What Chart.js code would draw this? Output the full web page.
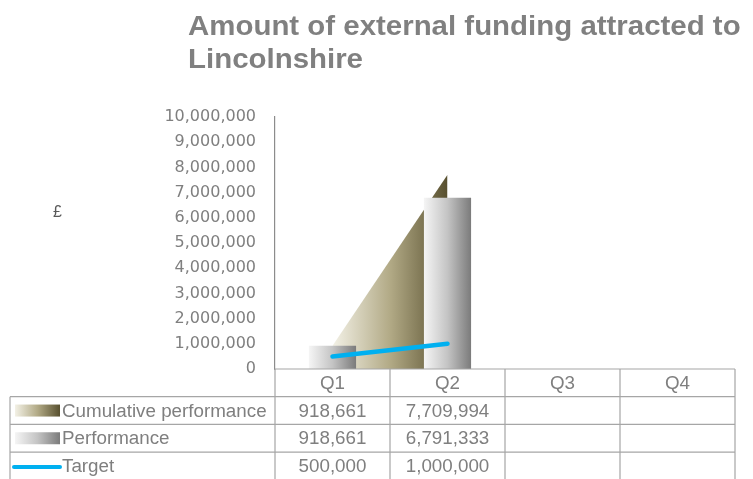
<!DOCTYPE html>
<html lang="en">
<head>
  <meta charset="UTF-8">
  <title>Amount of external funding attracted to Lincolnshire</title>
  <script src="https://cdn.jsdelivr.net/npm/chart.js"></script>
  <style>
    body {
      margin: 0;
      padding: 0;
      background: #ffffff;
      font-family: "Liberation Sans", Arial, sans-serif;
    }
    .wrap {
      position: relative;
      width: 753px;
      height: 479px;
      overflow: hidden;
    }
    .title {
      position: absolute;
      left: 188px;
      top: 10px;
      font-size: 27px;
      line-height: 33px;
      font-weight: bold;
      color: #808080;
      white-space: nowrap;
      transform: scaleX(1.09);
      transform-origin: left top;
    }
    .unit {
      position: absolute;
      left: 53px;
      top: 203px;
      font-size: 16px;
      color: #595959;
    }
    canvas {
      position: absolute;
      left: 0;
      top: 0;
    }
  </style>
</head>
<body>
  <div class="wrap">
    <canvas id="fundingChart" width="753" height="479"></canvas>
    <div class="title">Amount of external funding attracted to<br>Lincolnshire</div>
    <div class="unit">£</div>
  </div>
  <script>
    // Chart data (quarters, £)
    const quarters = ['Q1', 'Q2', 'Q3', 'Q4'];
    const cumulativePerformance = [918661, 7709994, null, null];
    const performance = [918661, 6791333, null, null];
    const target = [500000, 1000000, null, null];
    const seriesNames = ['Cumulative performance', 'Performance', 'Target'];

    const BAR_PCT = 0.41;
    const TABLE_LEFT = 10;
    const ROW_H = 27.7;
    const LINE_COLOR = '#a6a6a6';
    const TEXT_COLOR = '#7f7f7f';

    function fmt(v) {
      return v === null ? '' : v.toLocaleString('en-GB');
    }

    function cumulativeGradient(c, x0, x1) {
      const g = c.createLinearGradient(x0, 0, x1, 0);
      g.addColorStop(0, '#f3f1e6');
      g.addColorStop(0.5, '#b2aa86');
      g.addColorStop(1, '#58502f');
      return g;
    }

    function performanceGradient(c, x0, x1) {
      const g = c.createLinearGradient(x0, 0, x1, 0);
      g.addColorStop(0, '#f5f5f5');
      g.addColorStop(0.5, '#c4c4c4');
      g.addColorStop(1, '#7b7b7b');
      return g;
    }

    /**
     * Data table under the plot, Excel style
     */
    const dataTablePlugin = {
      id: 'dataTable',
      afterDraw(chart) {
        const c = chart.ctx;
        const xs = chart.scales.x;
        const area = chart.chartArea;
        const colW = (xs.right - xs.left) / quarters.length;
        const top = area.bottom;
        const rows = [cumulativePerformance, performance, target];

        c.save();
        c.strokeStyle = LINE_COLOR;
        c.lineWidth = 1.2;

        // header row borders
        c.beginPath();
        c.moveTo(xs.left, top);
        c.lineTo(xs.right, top);
        for (let i = 0; i <= quarters.length; i++) {
          const x = xs.left + i * colW;
          c.moveTo(x, top);
          c.lineTo(x, top + ROW_H * 4 + 5);
        }
        // data rows
        for (let r = 1; r <= 3; r++) {
          const y = top + r * ROW_H;
          c.moveTo(TABLE_LEFT, y);
          c.lineTo(xs.right, y);
        }
        c.moveTo(TABLE_LEFT, top + ROW_H);
        c.lineTo(TABLE_LEFT, top + ROW_H * 4 + 5);
        c.stroke();

        c.font = '18.8px "Liberation Sans", Arial, sans-serif';
        c.fillStyle = TEXT_COLOR;
        c.textBaseline = 'middle';
        c.textAlign = 'center';
        quarters.forEach((q, i) => {
          c.fillText(q, xs.getPixelForValue(i), top + ROW_H / 2 + 1);
        });

        rows.forEach((vals, r) => {
          const yMid = top + (r + 1) * ROW_H + ROW_H / 2 + 1;
          vals.forEach((v, i) => {
            c.fillText(fmt(v), xs.getPixelForValue(i), yMid);
          });
        });

        // legend keys + names
        const keyX0 = TABLE_LEFT + 5;
        const keyX1 = TABLE_LEFT + 50;
        let y = top + ROW_H + ROW_H / 2;
        c.fillStyle = cumulativeGradient(c, keyX0, keyX1);
        c.fillRect(keyX0, y - 6, keyX1 - keyX0, 12);
        y = top + 2 * ROW_H + ROW_H / 2;
        c.fillStyle = performanceGradient(c, keyX0, keyX1);
        c.fillRect(keyX0, y - 6, keyX1 - keyX0, 12);
        y = top + 3 * ROW_H + ROW_H / 2;
        c.strokeStyle = '#00b0f0';
        c.lineWidth = 4;
        c.lineCap = 'round';
        c.beginPath();
        c.moveTo(keyX0 - 1, y + 1);
        c.lineTo(keyX1, y + 1);
        c.stroke();

        c.textAlign = 'left';
        c.fillStyle = TEXT_COLOR;
        seriesNames.forEach((name, r) => {
          c.fillText(name, keyX1 + 2, top + (r + 1) * ROW_H + ROW_H / 2 + 1);
        });
        c.restore();
      }
    };

    const ctxEl = document.getElementById('fundingChart');
    new Chart(ctxEl, {
      data: {
        labels: quarters,
        datasets: [
          {
            type: 'line',
            label: seriesNames[0],
            data: cumulativePerformance,
            order: 3,
            fill: 'origin',
            borderWidth: 0,
            pointRadius: 0,
            tension: 0,
            backgroundColor: (ctx) => {
              const chart = ctx.chart;
              if (!chart.chartArea) return '#a8a07a';
              const xs = chart.scales.x;
              return cumulativeGradient(chart.ctx, xs.getPixelForValue(0), xs.getPixelForValue(1));
            },
          },
          {
            type: 'bar',
            label: seriesNames[1],
            data: performance,
            order: 2,
            barPercentage: BAR_PCT,
            categoryPercentage: 1,
            borderWidth: 0,
            backgroundColor: (ctx) => {
              const chart = ctx.chart;
              if (!chart.chartArea || ctx.dataIndex === undefined) return '#bbbbbb';
              const xs = chart.scales.x;
              const cx = xs.getPixelForValue(ctx.dataIndex);
              const half = (xs.width / quarters.length) * BAR_PCT / 2;
              return performanceGradient(chart.ctx, cx - half, cx + half);
            },
          },
          {
            type: 'line',
            label: seriesNames[2],
            data: target,
            order: 1,
            fill: false,
            borderColor: '#00b0f0',
            borderWidth: 4.5,
            borderCapStyle: 'round',
            pointRadius: 0,
            tension: 0,
          },
        ],
      },
      options: {
        responsive: false,
        animation: false,
        layout: {
          padding: { left: 0, right: 18, top: 117, bottom: 110 },
        },
        plugins: {
          legend: { display: false },
          tooltip: { enabled: false },
          title: { display: false },
        },
        scales: {
          x: {
            display: false,
            offset: true,
          },
          y: {
            min: 0,
            max: 10000000,
            ticks: {
              stepSize: 1000000,
              color: '#7f7f7f',
              padding: 19,
              font: { family: '"DejaVu Sans", sans-serif', size: 16 },
              callback: (v) => v.toLocaleString('en-GB'),
            },
            grid: { display: false, drawTicks: false },
            border: { display: true, color: '#8c8c8c', width: 1.2 },
            afterFit: (scale) => { scale.width = 275; },
          },
        },
      },
      plugins: [dataTablePlugin],
    });
  </script>
</body>
</html>
